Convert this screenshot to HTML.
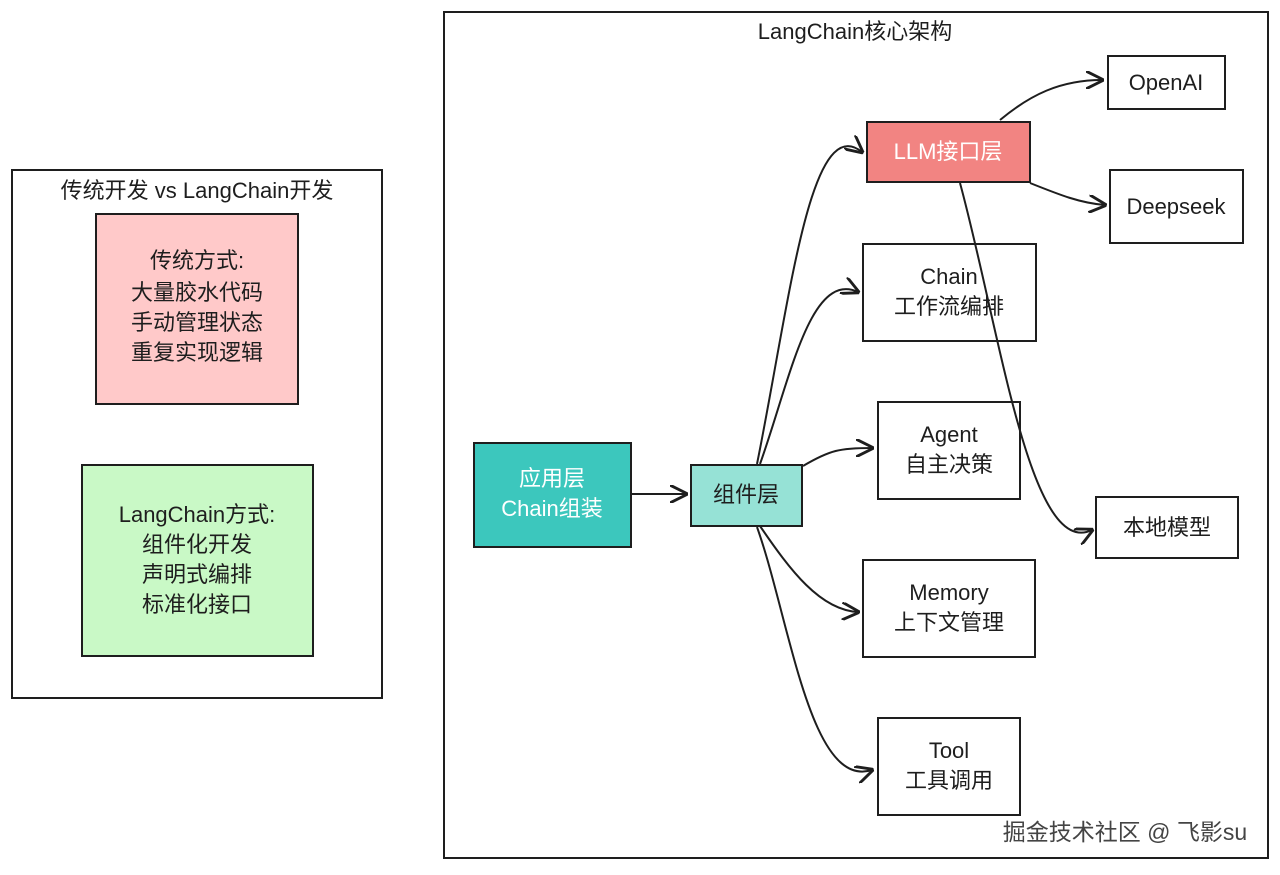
<!DOCTYPE html>
<html><head><meta charset="utf-8"><style>
html,body{margin:0;padding:0;background:#fff;}
svg text{font-family:"Liberation Sans","Noto Sans CJK SC",sans-serif;font-size:22px;fill:#1e1e1e;text-anchor:middle;}
</style></head><body>
<svg width="1280" height="870" viewBox="0 0 1280 870" xmlns="http://www.w3.org/2000/svg">
<defs><marker id="a" viewBox="0 0 10 10" refX="9" refY="5" markerWidth="9" markerHeight="9" orient="auto"><path d="M0,0 L10,5 L0,10" fill="none" stroke="#1e1e1e" stroke-width="1.6"/></marker></defs>
<g fill="none" stroke="#1e1e1e" stroke-width="2">
<rect x="12" y="170" width="370" height="528" fill="#fff"/>
<rect x="96" y="214" width="202" height="190" fill="#ffc9c9"/>
<rect x="82" y="465" width="231" height="191" fill="#c9f9c6"/>
<rect x="444" y="12" width="824" height="846" fill="#fff"/>
<rect x="474" y="443" width="157" height="104" fill="#3cc7bd"/>
<rect x="691" y="465" width="111" height="61" fill="#96e2d6"/>
<rect x="867" y="122" width="163" height="60" fill="#f28482"/>
<rect x="1108" y="56" width="117" height="53" fill="#fff"/>
<rect x="1110" y="170" width="133" height="73" fill="#fff"/>
<rect x="863" y="244" width="173" height="97" fill="#fff"/>
<rect x="878" y="402" width="142" height="97" fill="#fff"/>
<rect x="1096" y="497" width="142" height="61" fill="#fff"/>
<rect x="863" y="560" width="172" height="97" fill="#fff"/>
<rect x="878" y="718" width="142" height="97" fill="#fff"/>
</g>
<g fill="none" stroke="#1e1e1e" stroke-width="2" marker-end="url(#a)">
<path d="M632,494 L686,494"/>
<path d="M757,464 C790,300 810,110 862,152"/>
<path d="M760,464 C790,380 810,270 858,292"/>
<path d="M803,466 C830,450 840,448 872,448"/>
<path d="M760,526 C790,570 820,610 858,612"/>
<path d="M757,527 C790,620 810,790 872,770"/>
<path d="M1000,120 C1030,95 1060,80 1102,80"/>
<path d="M1030,183 C1060,195 1080,203 1105,205"/>
<path d="M960,183 C1000,330 1030,560 1092,530"/>
</g>
<text x="197" y="198">传统开发 vs LangChain开发</text>
<text x="197" y="268">传统方式:</text>
<text x="197" y="300">大量胶水代码</text>
<text x="197" y="330">手动管理状态</text>
<text x="197" y="360">重复实现逻辑</text>
<text x="197" y="522">LangChain方式:</text>
<text x="197" y="552">组件化开发</text>
<text x="197" y="582">声明式编排</text>
<text x="197" y="612">标准化接口</text>
<text x="855" y="39">LangChain核心架构</text>
<text x="552" y="486" style="fill:#fff">应用层</text>
<text x="552" y="516" style="fill:#fff">Chain组装</text>
<text x="746" y="502">组件层</text>
<text x="948" y="159" style="fill:#fff">LLM接口层</text>
<text x="1166" y="90">OpenAI</text>
<text x="1176" y="214">Deepseek</text>
<text x="949" y="284">Chain</text>
<text x="949" y="314">工作流编排</text>
<text x="949" y="442">Agent</text>
<text x="949" y="472">自主决策</text>
<text x="1167" y="535">本地模型</text>
<text x="949" y="600">Memory</text>
<text x="949" y="630">上下文管理</text>
<text x="949" y="758">Tool</text>
<text x="949" y="788">工具调用</text>
<text x="1125" y="840" style="fill:#444;stroke:#fff;stroke-width:3;paint-order:stroke;font-size:23px">掘金技术社区 @ 飞影su</text>
</svg>
</body></html>
